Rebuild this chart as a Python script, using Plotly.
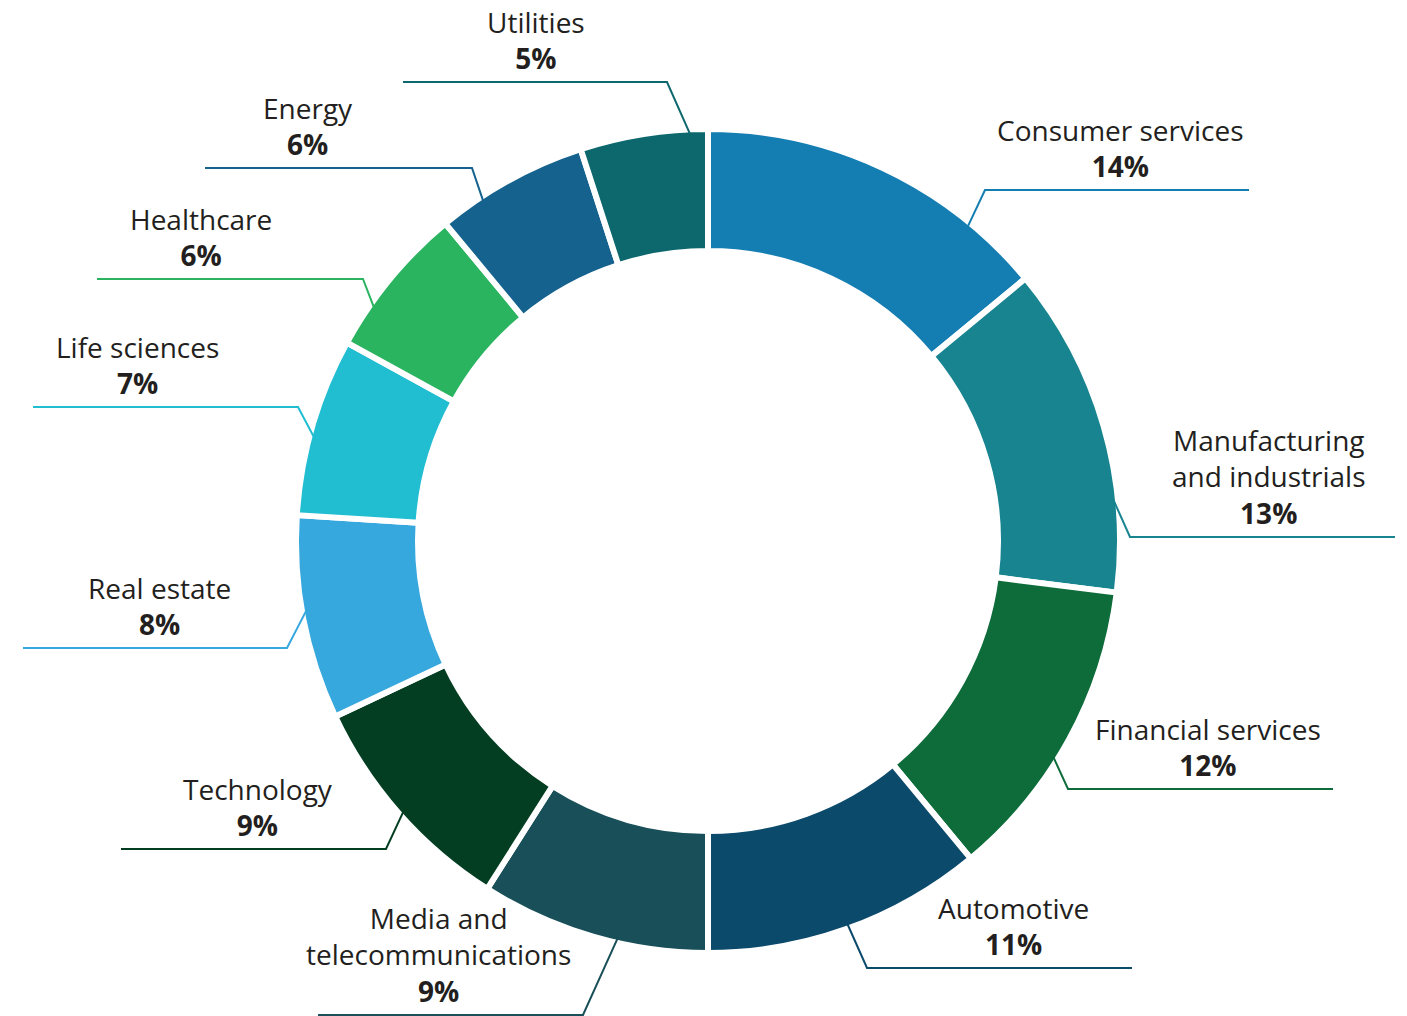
import math
import plotly.graph_objects as go

# Share of deals by sector (%), clockwise from 12 o'clock
sectors = [
    "Consumer services",
    "Manufacturing<br>and industrials",
    "Financial services",
    "Automotive",
    "Media and<br>telecommunications",
    "Technology",
    "Real estate",
    "Life sciences",
    "Healthcare",
    "Energy",
    "Utilities",
]
shares = [14, 13, 12, 11, 9, 9, 8, 7, 6, 6, 5]
colors = [
    "#147DB2", "#17848F", "#0E6B3A", "#0C4A6C", "#184F58", "#033E22",
    "#36A8DE", "#21BED2", "#2AB460", "#15628E", "#0D686E",
]

W, H = 1407, 1016
CX, CY = 708, 541          # ring centre (px)
R_OUT = 412                # outer radius incl. half of the white separator
R_IN = 290

# Label placement (px): angle where the leader meets the ring,
# elbow point, end of the horizontal rule, and text centre x
label_layout = [
    (39.6, (985, 190), 1249, 1120),
    (84.0, (1130, 537), 1395, 1268),
    (122.0, (1068, 789), 1333, 1208),
    (160.0, (867, 968), 1132, 1013),
    (192.8, (583, 1015), 318, 438),
    (228.4, (386, 849), 121, 258),
    (260.3, (287, 648), 23, 159),
    (284.7, (298, 407), 33, 137),
    (304.9, (363, 279), 97, 201),
    (326.5, (472, 168), 205, 308),
    (357.5, (667, 82), 403, 536),
]

FONT = "Open Sans"
FS = 28
LINE_H = FS * 1.3          # plotly's multi-line text spacing
TEXT_ABOVE_RULE = 24       # centre of last text line above the rule

fig = go.Figure()

fig.add_trace(go.Pie(
    labels=[s.replace("<br>", " ") for s in sectors],
    values=shares,
    sort=False,
    direction="clockwise",
    rotation=0,
    hole=R_IN / R_OUT,
    marker=dict(colors=colors, line=dict(color="white", width=6)),
    textinfo="none",
    hoverinfo="label+percent",
    showlegend=False,
    domain=dict(
        x=[(CX - R_OUT) / W, (CX + R_OUT) / W],
        y=[1 - (CY + R_OUT) / H, 1 - (CY - R_OUT) / H],
    ),
))

shapes = []
annotations = []
r_edge = R_OUT - 5
for name, val, col, (ang, (ex, ey), endx, tx) in zip(sectors, shares, colors, label_layout):
    a = math.radians(ang)
    sx = CX + r_edge * math.sin(a)
    sy = CY - r_edge * math.cos(a)
    shapes.append(dict(
        type="path", xref="x", yref="y", layer="above",
        path=f"M {sx:.1f} {sy:.1f} L {ex} {ey} L {endx} {ey}",
        line=dict(color=col, width=2),
    ))
    n_lines = name.count("<br>") + 2
    ty = ey - TEXT_ABOVE_RULE - (n_lines - 1) * LINE_H / 2
    annotations.append(dict(
        xref="x", yref="y", x=tx, y=ty,
        text=f"{name}<br><b>{val}%</b>",
        showarrow=False, xanchor="center", yanchor="middle", align="center",
        font=dict(family=FONT, size=FS, color="#231F20"),
    ))

fig.update_layout(
    width=W, height=H,
    margin=dict(l=0, r=0, t=0, b=0),
    paper_bgcolor="white", plot_bgcolor="white",
    xaxis=dict(range=[0, W], visible=False, domain=[0, 1], fixedrange=True),
    yaxis=dict(range=[H, 0], visible=False, domain=[0, 1], fixedrange=True),
    shapes=shapes,
    annotations=annotations,
)

fig.write_html("out.html")
